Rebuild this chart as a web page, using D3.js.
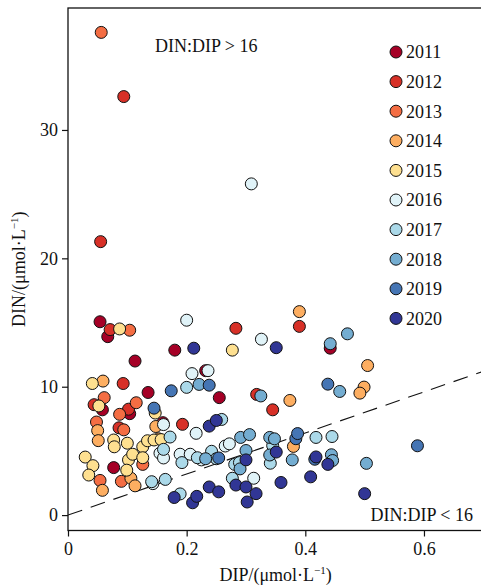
<!DOCTYPE html>
<html>
<head>
<meta charset="utf-8">
<script src="https://cdn.jsdelivr.net/npm/d3@7"></script>
<style>
  html, body { margin: 0; padding: 0; background: #fff; }
  svg { display: block; }
  text { font-family: "Liberation Serif", "Times New Roman", serif; fill: #111; }
</style>
</head>
<body>
<svg id="chart" width="481" height="588"></svg>
<script>
// Years shown in the legend and their colours (RdYlBu, 10 classes)
const years = ["2011", "2012", "2013", "2014", "2015", "2016", "2017", "2018", "2019", "2020"];
const yearColors = ["#a50026", "#d73027", "#f46d43", "#fdae61", "#fee090",
                    "#e0f3f8", "#abd9e9", "#74add1", "#4575b4", "#313695"];

// Observations per year: [DIP, DIN] in µmol·L⁻¹
const obs2011 = [[0.054, 15.06], [0.067, 13.9], [0.113, 12.0], [0.180, 12.85], [0.135, 9.55],
  [0.255, 9.15], [0.058, 8.2], [0.104, 7.9], [0.077, 3.7], [0.160, 7.2], [0.232, 11.25], [0.442, 13.0]];
const obs2012 = [[0.094, 32.6], [0.055, 21.3], [0.071, 14.45], [0.283, 14.55], [0.390, 14.7],
  [0.093, 10.25], [0.044, 8.6], [0.102, 8.25], [0.086, 6.8], [0.193, 7.07], [0.318, 9.4], [0.345, 8.2]];
const obs2013 = [[0.056, 37.6], [0.104, 14.4], [0.061, 9.15], [0.115, 8.75], [0.087, 7.85],
  [0.048, 7.25], [0.094, 6.64], [0.126, 3.95], [0.054, 2.7], [0.090, 2.63]];
const obs2014 = [[0.390, 15.85], [0.505, 11.65], [0.059, 10.44], [0.050, 6.58], [0.051, 5.8],
  [0.058, 1.93], [0.106, 2.87], [0.113, 2.28], [0.148, 6.9], [0.153, 5.94], [0.374, 8.93],
  [0.499, 9.97], [0.492, 9.5], [0.380, 5.35]];
const obs2015 = [[0.087, 14.5], [0.277, 12.85], [0.041, 10.25], [0.052, 8.5], [0.147, 7.95],
  [0.077, 5.85], [0.078, 5.32], [0.100, 5.6], [0.126, 5.32], [0.134, 5.79], [0.145, 5.85],
  [0.157, 5.88], [0.102, 4.3], [0.109, 4.74], [0.126, 4.47], [0.099, 3.5], [0.029, 4.52],
  [0.042, 3.85], [0.035, 3.12]];
const obs2016 = [[0.309, 25.8], [0.200, 15.18], [0.326, 13.7], [0.209, 11.02], [0.236, 11.25],
  [0.161, 7.05], [0.155, 4.82], [0.161, 4.45], [0.189, 4.74], [0.206, 4.74], [0.216, 6.37],
  [0.225, 4.3], [0.265, 5.38], [0.272, 5.55], [0.313, 2.87], [0.143, 2.45]];
const obs2017 = [[0.200, 9.95], [0.164, 2.78], [0.141, 2.6], [0.161, 5.12], [0.172, 6.08],
  [0.192, 4.09], [0.189, 1.65], [0.218, 4.47], [0.242, 4.97], [0.250, 4.39], [0.259, 7.45],
  [0.277, 2.87], [0.281, 3.95], [0.289, 4.09], [0.345, 5.41], [0.341, 4.04], [0.418, 6.05],
  [0.445, 6.12]];
const obs2018 = [[0.442, 13.35], [0.471, 14.12], [0.221, 10.18], [0.325, 9.28], [0.458, 9.63],
  [0.232, 4.39], [0.290, 3.6], [0.291, 6.05], [0.306, 6.27], [0.300, 5.03], [0.340, 6.05],
  [0.348, 5.94], [0.340, 4.68], [0.378, 4.3], [0.444, 4.7], [0.446, 4.25], [0.503, 4.03]];
const obs2019 = [[0.174, 9.68], [0.238, 10.12], [0.438, 10.2], [0.145, 8.33], [0.254, 4.45],
  [0.384, 5.95], [0.387, 6.35], [0.416, 4.35], [0.589, 5.4]];
const obs2020 = [[0.212, 13.0], [0.351, 13.04], [0.238, 6.93], [0.250, 7.37], [0.179, 1.37],
  [0.210, 0.96], [0.217, 1.46], [0.238, 2.19], [0.254, 1.81], [0.283, 2.34], [0.300, 2.19],
  [0.302, 1.02], [0.317, 1.67], [0.300, 4.3], [0.351, 4.91], [0.359, 2.54], [0.409, 2.98],
  [0.418, 4.53], [0.438, 3.95], [0.500, 1.67]];
const seriesData = [obs2011, obs2012, obs2013, obs2014, obs2015,
                    obs2016, obs2017, obs2018, obs2019, obs2020];

// Axis ticks and the Redfield reference ratio
const xTicks = [0, 0.2, 0.4, 0.6];
const xTickLabels = ["0", "0.2", "0.4", "0.6"];
const yTicks = [0, 10, 20, 30];
const redfield = 16;

const svg = d3.select("#chart");
const plotLeft = 68, plotRight = 483.3, plotTop = 8, plotBottom = 530.5;

const x = d3.scaleLinear().domain([0, 0.7]).range([plotLeft, plotRight]);
const y = d3.scaleLinear().domain([-1.2, 39.5]).range([plotBottom, plotTop]);

// Frame
svg.append("rect")
  .attr("x", plotLeft).attr("y", plotTop)
  .attr("width", plotRight - plotLeft).attr("height", plotBottom - plotTop)
  .attr("fill", "none").attr("stroke", "#111").attr("stroke-width", 1.3);

// Axes
const xAxis = svg.append("g")
  .attr("transform", `translate(0,${plotBottom})`)
  .call(d3.axisBottom(x).tickValues(xTicks)
    .tickFormat((d, i) => xTickLabels[i]).tickSize(6).tickPadding(6));
const yAxis = svg.append("g")
  .attr("transform", `translate(${plotLeft},0)`)
  .call(d3.axisLeft(y).tickValues(yTicks).tickSize(6).tickPadding(4));
[xAxis, yAxis].forEach(g => {
  g.select(".domain").remove();
  g.selectAll(".tick line").attr("stroke", "#111").attr("stroke-width", 1.2);
  g.selectAll(".tick text")
    .attr("font-family", "Liberation Serif, Times New Roman, serif")
    .attr("font-size", 18).attr("fill", "#111");
});

// Clip region for the plot contents
svg.append("clipPath").attr("id", "plotClip")
  .append("rect").attr("x", plotLeft).attr("y", plotTop)
  .attr("width", plotRight - plotLeft).attr("height", plotBottom - plotTop);

const plot = svg.append("g").attr("clip-path", "url(#plotClip)");

// DIN:DIP = 16 line
plot.append("line")
  .attr("x1", x(0)).attr("y1", y(0))
  .attr("x2", x(0.7)).attr("y2", y(0.7 * redfield))
  .attr("stroke", "#111").attr("stroke-width", 1.1)
  .attr("stroke-dasharray", "15,9");

// Points, later years drawn on top
seriesData.forEach((pts, i) => {
  plot.append("g").selectAll("circle")
    .data(pts).join("circle")
    .attr("cx", d => x(d[0])).attr("cy", d => y(d[1]))
    .attr("r", 6)
    .attr("fill", yearColors[i])
    .attr("stroke", "#111").attr("stroke-width", 1);
});

// Region annotations
svg.append("text").attr("x", 155).attr("y", 52)
  .attr("font-size", 18).text("DIN:DIP > 16");
svg.append("text").attr("x", 473).attr("y", 521)
  .attr("text-anchor", "end").attr("font-size", 18).text("DIN:DIP < 16");

// Legend
const legend = svg.append("g");
years.forEach((yr, i) => {
  const cy = 52 + i * 29.6;
  legend.append("circle").attr("cx", 396).attr("cy", cy).attr("r", 6)
    .attr("fill", yearColors[i]).attr("stroke", "#111").attr("stroke-width", 1);
  legend.append("text").attr("x", 406).attr("y", cy + 6.3)
    .attr("font-size", 18).text(yr);
});

// Axis titles
const xTitle = svg.append("text")
  .attr("x", (plotLeft + plotRight) / 2).attr("y", 581)
  .attr("text-anchor", "middle").attr("font-size", 18);
xTitle.append("tspan").text("DIP/(μmol·L");
xTitle.append("tspan").attr("font-size", 11).attr("dy", -7).text("−1");
xTitle.append("tspan").attr("dy", 7).text(")");

const yTitle = svg.append("text")
  .attr("transform", `translate(25,${(plotTop + plotBottom) / 2}) rotate(-90)`)
  .attr("text-anchor", "middle").attr("font-size", 18);
yTitle.append("tspan").text("DIN/(μmol·L");
yTitle.append("tspan").attr("font-size", 11).attr("dy", -7).text("−1");
yTitle.append("tspan").attr("dy", 7).text(")");
</script>
</body>
</html>
